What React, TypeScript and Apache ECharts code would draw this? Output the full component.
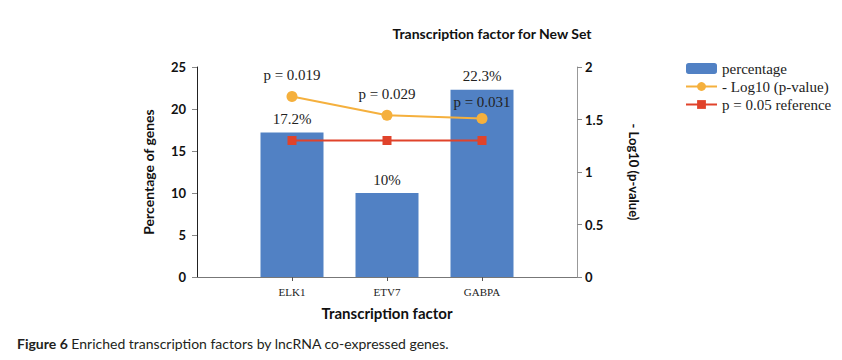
import React, { useEffect, useRef } from "react";
import * as echarts from "echarts";

const categories = ["ELK1", "ETV7", "GABPA"];
const percentages = [17.2, 10, 22.3];
const negLog10P = [1.72, 1.54, 1.51];
const pLabels = ["p = 0.019", "p = 0.029", "p = 0.031"];
const referenceLine = [1.3, 1.3, 1.3];
const leftTicks = { min: 0, max: 25, interval: 5 };
const rightTicks = { min: 0, max: 2, interval: 0.5 };

const pad = (arr: any[]) => [null, ...arr, null];
const pLabelDistance = [8, 8, 3];

export default function App() {
  const ref = useRef<HTMLDivElement>(null);
  useEffect(() => {
    document.body.style.margin = "0";
    const chart = echarts.init(ref.current!, null, { renderer: "svg" });
    const serif = "'Liberation Serif', 'Times New Roman', serif";
    const sans = "Lato, 'Open Sans', sans-serif";
    chart.setOption({
      animation: false,
      backgroundColor: "#ffffff",
      title: {
        text: "Transcription factor for New Set",
        left: 487,
        top: 21,
        textAlign: "center",
        textStyle: { fontFamily: sans, fontWeight: "bold", fontSize: 14, color: "#111" },
      },
      grid: { left: 197, right: 842 - 577, top: 67, bottom: 360 - 277 },
      legend: {
        orient: "vertical",
        left: 680,
        top: 56,
        itemWidth: 31,
        itemHeight: 11,
        itemGap: 3,
        textStyle: { fontFamily: serif, fontSize: 15, color: "#222" },
        data: ["percentage", "- Log10 (p-value)", "p = 0.05 reference"],
      },
      xAxis: {
        type: "category",
        boundaryGap: false,
        data: pad(categories).map((c) => (c === null ? "" : c)),
        name: "Transcription factor",
        nameLocation: "middle",
        nameGap: 28,
        nameTextStyle: { fontFamily: sans, fontWeight: "bold", fontSize: 15, color: "#111" },
        axisLine: { lineStyle: { color: "#777", width: 1 } },
        axisTick: {
          show: true,
          length: 4,
          interval: (i: number) => i > 0 && i < categories.length + 1,
          lineStyle: { color: "#555" },
        },
        axisLabel: {
          fontFamily: serif,
          fontSize: 11,
          color: "#222",
          margin: 9,
          interval: 0,
        },
        splitLine: { show: false },
      },
      yAxis: [
        {
          type: "value",
          ...leftTicks,
          name: "Percentage of genes",
          nameLocation: "middle",
          nameGap: 42,
          nameRotate: 90,
          nameTextStyle: { fontFamily: sans, fontWeight: "bold", fontSize: 14, color: "#111" },
          axisLine: { show: true, lineStyle: { color: "#222" } },
          axisTick: { show: true, inside: false, length: 5, lineStyle: { color: "#888" } },
          axisLabel: { fontFamily: sans, fontWeight: "bold", fontSize: 13, color: "#111", margin: 11 },
          splitLine: { show: false },
        },
        {
          type: "value",
          ...rightTicks,
          position: "right",
          name: "- Log10 (p-value)",
          nameLocation: "middle",
          nameGap: 50,
          nameRotate: -90,
          nameTextStyle: { fontFamily: sans, fontWeight: "bold", fontSize: 13, color: "#111" },
          axisLine: { show: true, lineStyle: { color: "#999" } },
          axisTick: { show: true, inside: false, length: 5, lineStyle: { color: "#888" } },
          axisLabel: { fontFamily: sans, fontWeight: "bold", fontSize: 13, color: "#111", margin: 8 },
          splitLine: { show: false },
        },
      ],
      series: [
        {
          name: "percentage",
          type: "bar",
          yAxisIndex: 0,
          barWidth: 63,
          itemStyle: { color: "#5181C4" },
          data: pad(percentages),
          label: {
            show: true,
            position: "top",
            distance: 6,
            fontFamily: serif,
            fontSize: 15,
            color: "#222",
            formatter: (p: any) => `${p.value}%`,
          },
        },
        {
          name: "- Log10 (p-value)",
          type: "line",
          yAxisIndex: 1,
          symbol: "circle",
          symbolSize: 11,
          itemStyle: { color: "#F5B03D" },
          lineStyle: { color: "#F5B03D", width: 2 },
          data: pad(negLog10P).map((v, i) =>
            v === null ? null : { value: v, label: { distance: pLabelDistance[i - 1] } }
          ),
          label: {
            show: true,
            position: "top",
            distance: 8,
            fontFamily: serif,
            fontSize: 15,
            color: "#222",
            formatter: (p: any) => pLabels[p.dataIndex - 1] ?? "",
          },
        },
        {
          name: "p = 0.05 reference",
          type: "line",
          yAxisIndex: 1,
          symbol: "rect",
          symbolSize: 9,
          itemStyle: { color: "#E0432B" },
          lineStyle: { color: "#E0432B", width: 2 },
          data: pad(referenceLine),
        },
      ],
      graphic: [
        {
          type: "text",
          left: 17,
          top: 336,
          style: {
            text: "{b|Figure 6} Enriched transcription factors by lncRNA co-expressed genes.",
            fontFamily: sans,
            fontSize: 14,
            fill: "#231f20",
            rich: {
              b: { fontFamily: sans, fontWeight: "bold", fontSize: 14, fill: "#231f20" },
            },
          },
        },
      ],
    });
    return () => chart.dispose();
  }, []);
  return <div ref={ref} style={{ width: 842, height: 360 }} />;
}
